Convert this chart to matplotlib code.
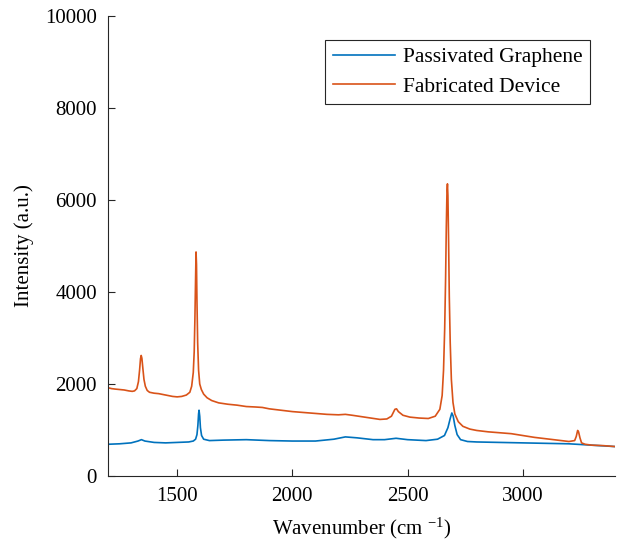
import matplotlib
matplotlib.use("Agg")
import matplotlib.pyplot as plt

plt.rcParams['font.family'] = ['Liberation Serif', 'DejaVu Serif']
plt.rcParams['mathtext.fontset'] = 'custom'
plt.rcParams['mathtext.rm'] = 'Liberation Serif'
plt.rcParams['mathtext.it'] = 'Liberation Serif:italic'

fab_x = [1200, 1215, 1230, 1250, 1270, 1290, 1305, 1315, 1325, 1332, 1337, 1341, 1344, 1347, 1351, 1356,
         1362, 1370, 1380, 1400, 1420, 1440, 1460, 1480, 1500, 1520, 1540, 1555, 1563, 1570, 1574, 1577,
         1580, 1582, 1584, 1586, 1589, 1593, 1598, 1605, 1615, 1630, 1650, 1680, 1720, 1760, 1800, 1840,
         1870, 1900, 1950, 2000, 2050, 2100, 2150, 2200, 2230, 2260, 2300, 2340, 2380, 2410, 2430, 2445,
         2452, 2460, 2480, 2510, 2550, 2590, 2620, 2640, 2650, 2656, 2661, 2665, 2668, 2671, 2673, 2675,
         2678, 2681, 2685, 2690, 2697, 2705, 2720, 2740, 2770, 2800, 2850, 2900, 2950, 3000, 3050, 3100,
         3150, 3200, 3225, 3232, 3238, 3242, 3248, 3255, 3270, 3300, 3350, 3400]
fab_y = [1920, 1900, 1890, 1880, 1870, 1850, 1840, 1850, 1900, 2050, 2300, 2550, 2620, 2560, 2350, 2100,
         1950, 1860, 1820, 1800, 1790, 1770, 1750, 1730, 1720, 1730, 1760, 1820, 1950, 2250, 2700, 3400,
         4300, 4870, 4600, 3800, 2900, 2300, 2000, 1880, 1780, 1700, 1640, 1590, 1560, 1540, 1510, 1500,
         1490, 1460, 1430, 1400, 1380, 1360, 1340, 1330, 1340, 1320, 1290, 1260, 1230, 1240, 1300, 1450,
         1460, 1400, 1320, 1280, 1260, 1250, 1300, 1450, 1750, 2300, 3200, 4300, 5400, 6200, 6350, 6100,
         5100, 3900, 2900, 2100, 1600, 1350, 1180, 1080, 1020, 990, 960, 940, 920, 880, 840, 810,
         780, 750, 770, 860, 990, 960, 830, 720, 690, 670, 660, 640]

pas_x = [1200, 1250, 1300, 1330, 1345, 1360, 1400, 1450, 1500, 1550, 1570, 1580, 1586, 1590, 1593, 1595,
         1598, 1601, 1606, 1615, 1640, 1700, 1800, 1900, 2000, 2100, 2180, 2230, 2280, 2350, 2400, 2450,
         2500, 2580, 2630, 2660, 2675, 2685, 2692, 2698, 2705, 2715, 2730, 2760, 2800, 2900, 3000, 3100,
         3200, 3300, 3400]
pas_y = [690, 700, 720, 760, 790, 760, 730, 720, 730, 740, 760, 800, 900, 1100, 1350, 1430,
         1300, 1050, 880, 800, 770, 780, 790, 770, 760, 760, 800, 850, 830, 790, 790, 820,
         790, 770, 800, 880, 1050, 1250, 1370, 1300, 1100, 900, 790, 750, 740, 730, 720, 710,
         700, 670, 640]

x_ticks = [1500, 2000, 2500, 3000]
y_ticks = [0, 2000, 4000, 6000, 8000, 10000]

fig = plt.figure(figsize=(6.19, 5.51), dpi=100)
ax = fig.add_axes([0.1745, 0.1361, 0.819, 0.835])
ax.plot(pas_x, pas_y, color='#0072BD', lw=1.2, label='Passivated Graphene')
ax.plot(fab_x, fab_y, color='#D95319', lw=1.2, label='Fabricated Device')
ax.set_xlim(1200, 3400)
ax.set_ylim(0, 10000)
ax.set_xticks(x_ticks)
ax.set_yticks(y_ticks)
for s in ['top', 'right']:
    ax.spines[s].set_visible(False)
for s in ['left', 'bottom']:
    ax.spines[s].set_color('#262626')
    ax.spines[s].set_linewidth(0.8)
ax.tick_params(direction='in', length=5, width=0.8, color='#262626', labelsize=15, pad=8)
ax.set_xlabel('Wavenumber (cm $^{-1}$)', fontsize=15, labelpad=7)
ax.set_ylabel('Intensity (a.u.)', fontsize=15, labelpad=8)
leg = ax.legend(loc='upper right', bbox_to_anchor=(0.951, 0.948), borderaxespad=0, fontsize=15.5,
                fancybox=False, framealpha=1, edgecolor='#262626', handlelength=2.9,
                borderpad=0.35, labelspacing=0.42, handletextpad=0.35)
leg.get_frame().set_linewidth(0.8)
fig.savefig('out.png', dpi=100)
